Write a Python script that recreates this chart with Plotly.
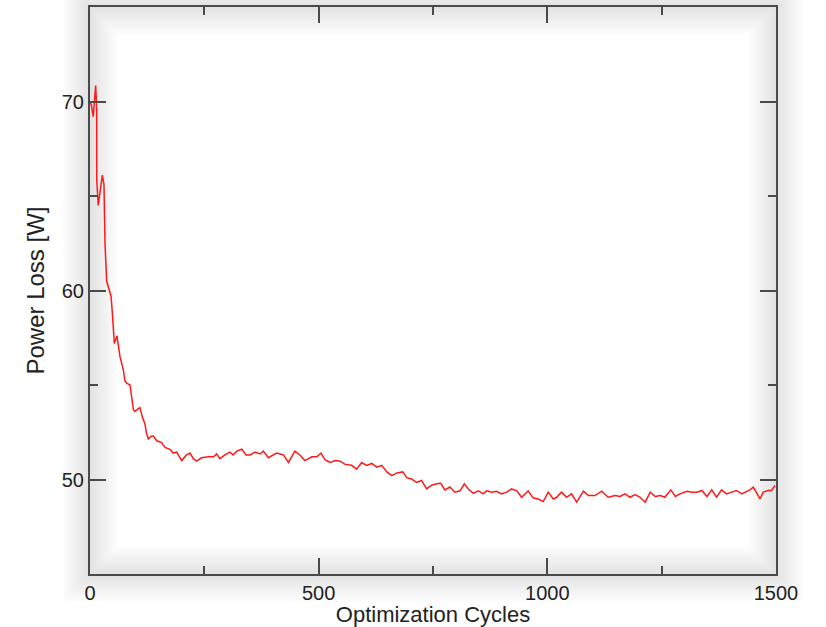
import plotly.graph_objects as go

cycles = [0, 3, 7, 10, 12.4, 14.6, 14.7, 18, 22, 27, 30.6, 32.8, 36.4, 41.5, 46, 48.9, 53.2, 59, 65.6,
          72.9, 76.5, 80.2, 87.5, 94.8, 98, 105.7, 109, 114.5, 120, 124, 127.6, 135, 138.5, 146, 156.7,
          164, 175, 182, 189.6, 200.5, 211, 218.7, 226, 233, 244, 259, 270, 277, 284, 295, 306, 313,
          321, 332, 341, 350, 361, 372, 379, 390, 401, 408, 423, 434, 448, 459, 470, 485, 496, 505,
          514, 525, 536, 547, 558, 572, 583, 594, 605, 616, 627, 638, 649, 660, 671, 684, 692.5, 703,
          714, 725, 736, 747, 758, 767, 776, 787, 798, 809, 818.5, 827, 838, 849, 860, 867, 878, 889,
          900, 911, 922, 933, 944, 958, 969, 980, 991, 1002, 1013, 1020.6, 1031, 1042, 1053, 1064,
          1079, 1090, 1104, 1119, 1133, 1148, 1159, 1170, 1181, 1192, 1203, 1214, 1225, 1236, 1247,
          1257, 1270, 1280, 1290, 1305, 1316, 1327, 1338, 1349, 1359.5, 1370, 1381, 1392, 1403, 1414,
          1425, 1436, 1443, 1450.5, 1465, 1472, 1483, 1490, 1498]
power_loss = [70.0, 69.8, 69.2, 70.3, 70.85, 69.6, 65.9, 64.5, 65.2, 66.1, 65.6, 62.5, 60.5, 60.0, 59.7,
              58.8, 57.2, 57.6, 56.5, 55.8, 55.2, 55.1, 55.0, 53.7, 53.6, 53.75, 53.8, 53.3, 52.95, 52.4,
              52.15, 52.3, 52.3, 52.05, 51.95, 51.7, 51.6, 51.4, 51.45, 51.0, 51.3, 51.4, 51.1, 50.97,
              51.15, 51.2, 51.2, 51.35, 51.1, 51.3, 51.45, 51.3, 51.5, 51.6, 51.3, 51.3, 51.45, 51.35,
              51.5, 51.15, 51.3, 51.4, 51.3, 50.9, 51.5, 51.3, 51.0, 51.2, 51.2, 51.4, 51.05, 50.9, 51.0,
              50.97, 50.8, 50.75, 50.55, 50.9, 50.75, 50.85, 50.65, 50.75, 50.4, 50.2, 50.35, 50.4, 50.1,
              50.03, 49.85, 49.95, 49.5, 49.7, 49.77, 49.8, 49.45, 49.6, 49.33, 49.4, 49.77, 49.5, 49.27,
              49.4, 49.24, 49.4, 49.33, 49.38, 49.24, 49.33, 49.5, 49.4, 49.06, 49.4, 49.03, 48.97, 48.83,
              49.33, 48.97, 49.06, 49.33, 49.06, 49.24, 48.8, 49.38, 49.15, 49.15, 49.38, 49.06, 49.15,
              49.1, 49.24, 49.06, 49.2, 49.06, 48.8, 49.33, 49.1, 49.15, 49.06, 49.45, 49.1, 49.24, 49.38,
              49.33, 49.33, 49.42, 49.1, 49.45, 49.06, 49.45, 49.24, 49.33, 49.42, 49.24, 49.38, 49.45,
              49.6, 48.97, 49.33, 49.42, 49.42, 49.68]

x_ticks = [0, 500, 1000, 1500]
y_ticks = [50, 60, 70]

FONT = "Liberation Sans, Arial, sans-serif"
AX = "#4a4a4a"

fig = go.Figure()
fig.add_trace(go.Scatter(x=cycles, y=power_loss, mode="lines",
                         line=dict(color="#ff1a1a", width=1.5), showlegend=False,
                         hoverinfo="skip"))

# soft, smooth shadow band around the frame
shapes = []
for i in range(14):
    w = 4 + i * 4
    shapes.append(dict(type="rect", xref="paper", yref="paper", x0=0, y0=0, x1=1, y1=1,
                       line=dict(color="rgba(0,0,0,0.006)", width=w), layer="below"))

fig.update_layout(
    width=826, height=627,
    margin=dict(l=90, r=50, t=7, b=53),
    paper_bgcolor="white", plot_bgcolor="white",
    font=dict(family=FONT, size=20, color="#222222"),
    shapes=shapes,
    xaxis=dict(range=[0, 1500], tickvals=x_ticks, ticktext=[str(v) for v in x_ticks],
               ticks="inside", ticklen=16, tickwidth=2, tickcolor=AX,
               tickfont=dict(size=20),
               minor=dict(tickvals=[250, 750, 1250], ticks="inside", ticklen=8, tickwidth=2, tickcolor=AX),
               showline=True, linecolor=AX, linewidth=2, mirror="allticks",
               showgrid=False, zeroline=False, automargin=False,
               title=dict(text="Optimization Cycles", standoff=3, font=dict(size=22))),
    yaxis=dict(range=[45, 75], tickvals=y_ticks, ticktext=[str(v) for v in y_ticks],
               ticks="inside", ticklen=16, tickwidth=2, tickcolor=AX,
               tickfont=dict(size=20),
               minor=dict(tickvals=[55, 65], ticks="inside", ticklen=8, tickwidth=2, tickcolor=AX),
               showline=True, linecolor=AX, linewidth=2, mirror="allticks",
               showgrid=False, zeroline=False, automargin=False,
               title=dict(text="Power Loss [W]", standoff=10, font=dict(size=24))),
)

fig.write_html("out.html", config={"displayModeBar": False},
               post_script="document.body.style.margin='0';document.body.style.overflow='hidden';")
